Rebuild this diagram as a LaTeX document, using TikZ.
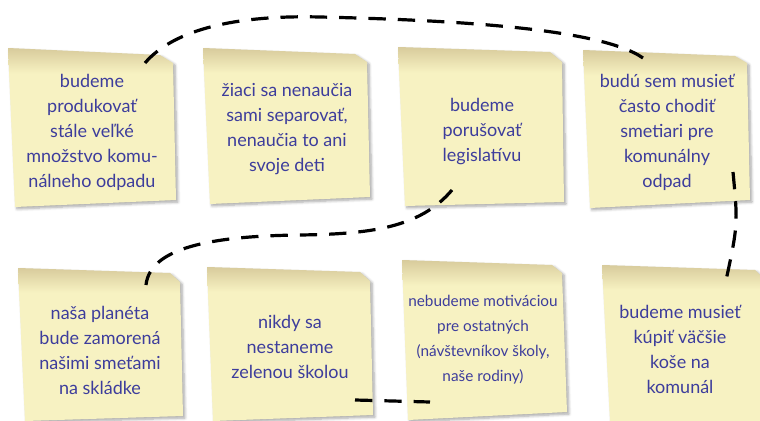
\documentclass[tikz,border=0pt]{standalone}
\usepackage{fontspec}
\setmainfont{Lato}
\usetikzlibrary{shadows.blur}
\definecolor{notepaper}{HTML}{F7F2C2}
\definecolor{notecurl}{HTML}{D8CB9C}
\definecolor{inkblue}{HTML}{3D3D9C}
\pgfdeclareverticalshading{noteshade}{100bp}{color(0bp)=(notepaper); color(67bp)=(notepaper); color(75bp)=(notecurl); color(100bp)=(notecurl)}
\def\stickynote(#1)(#2)(#3)(#4)(#5){\path[paper] (#1) -- (#2) -- (#3) -- (#4) -- (#5) -- cycle;}

\begin{document}
\begin{tikzpicture}[x=0.75pt, y=-0.75pt,
	paper/.style={shading=noteshade, blur shadow={shadow xshift=1.5pt, shadow yshift=-1.5pt, shadow blur steps=6, shadow opacity=35}},
	ink/.style={text=inkblue, align=center, font=\fontsize{13.5}{18.75}\selectfont},
	trail/.style={line width=2.4pt, dash pattern=on 13pt off 9pt}]
			%%%%% START %%%%%
			\useasboundingbox (0, 0) rectangle (760, 421);
			
			% top row
			\stickynote(8, 48)(160, 55)(173, 63)(176, 200)(15, 207)
			\stickynote(203, 48)(355, 54)(367, 62)(370, 197)(210, 204)
			\stickynote(398, 47)(550, 52)(562, 62)(564, 202)(405, 206)
			\stickynote(583, 50)(735, 56)(747, 63)(750, 200)(590, 208)
			
			% bottom row
			\stickynote(18, 268)(170, 273)(180, 282)(183, 416)(25, 421)
			\stickynote(207, 267)(360, 272)(370, 281)(373, 415)(213, 421)
			\stickynote(402, 260)(552, 265)(562, 273)(567, 412)(408, 420)
			\stickynote(602, 265)(755, 270)(765, 280)(768, 421)(610, 421)
			
			\node[ink] (waste) at (92, 132) {budeme\\produkovať\\stále veľké\\množstvo komu-\\nálneho odpadu};
			\node[ink] (pupils) at (287, 129) {žiaci sa nenaučia\\sami separovať,\\nenaučia to ani\\svoje deti};
			\node[ink] (law) at (482, 132) {budeme\\porušovať\\legislatívu};
			\node[ink] (collectors) at (667, 132) {budú sem musieť\\často chodiť\\smetiari pre\\komunálny\\odpad};
			
			\node[ink] (planet) at (100, 350) {naša planéta\\bude zamorená\\našimi smeťami\\na skládke};
			\node[ink] (school) at (290, 347) {nikdy sa\\nestaneme\\zelenou školou};
			\node[ink, font=\fontsize{11.5}{18.75}\selectfont] (motivation) at (483, 340) {nebudeme motiváciou\\pre ostatných\\(návštevníkov školy,\\naše rodiny)};
			\node[ink] (bins) at (680, 349) {budeme musieť\\kúpiť väčšie\\koše na\\komunál};
			
			% dashed trail
			\coordinate (wastetip) at (145, 63);
			\coordinate (collectorstip) at (643, 58);
			\coordinate (collectorsdrop) at (733, 172);
			\coordinate (binstip) at (725, 285);
			\coordinate (lawtip) at (452, 190);
			\coordinate (planettip) at (146, 285);
			\coordinate (schooltail) at (355, 400);
			\coordinate (motivationtail) at (430, 402);
			
			\draw[trail] (wastetip) .. controls (175, 28) and (240, 15) .. (320, 17) .. controls (450, 20) and (600, 28) .. (collectorstip);
			\draw[trail] (collectorsdrop) .. controls (738, 225) .. (binstip);
			\draw[trail] (lawtip) .. controls (420, 228) and (370, 234) .. (300, 235) .. controls (210, 236) and (150, 248) .. (planettip);
			\draw[trail] (schooltail) -- (motivationtail);
			
			%%%%% END %%%%%
\end{tikzpicture}
\end{document}
